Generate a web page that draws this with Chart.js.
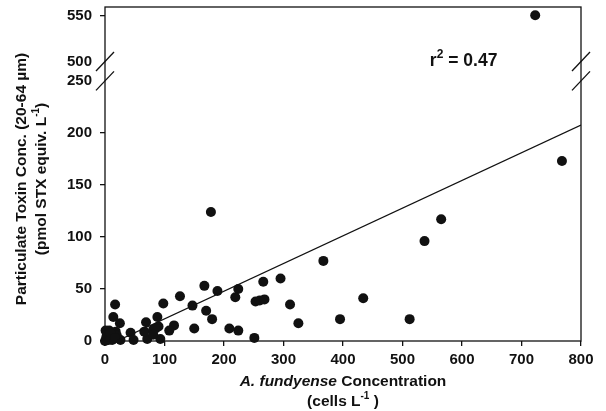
<!DOCTYPE html>
<html>
<head>
<meta charset="utf-8">
<script src="https://cdn.jsdelivr.net/npm/chart.js@4.4.0/dist/chart.umd.min.js"></script>
<style>
  html, body { margin: 0; padding: 0; background: #fff; }
  #chart { display: block; }
</style>
</head>
<body>
<canvas id="chart" width="606" height="411"></canvas>
<script>
// A. fundyense cells per litre vs particulate toxin, below the axis break
const cellsLow = [768, 178, 565, 537, 367, 295, 266, 224, 219, 189,
                  167, 126, 98, 17, 14, 25, 147, 170, 180, 253,
                  260, 268, 311, 325, 434, 395, 512, 224, 209, 251,
                  150, 116, 108, 88, 90, 69, 93, 71, 66, 81,
                  85, 81, 43, 48, 26, 0, 2, 4, 7, 10,
                  12, 15, 18, 1, 6, 14, 20, 3, 9, 17];
const toxinLow = [173, 124, 117, 96, 77, 60, 57, 50, 42, 48,
                  53, 43, 36, 35, 23, 17, 34, 29, 21, 38,
                  39, 40, 35, 17, 41, 21, 21, 10, 12, 3,
                  12, 15, 10, 23, 14, 18, 2, 2, 9, 11,
                  12, 6, 8, 1, 1, 0, 3, 7, 10, 4,
                  1, 7, 9, 10, 1, 2, 5, 5, 8, 3];

// above the break
const cellsHigh = [723];
const toxinHigh = [551];

// regression line end points
const fitCells = [20, 800];
const fitToxin = [0, 207.5];

const xTicks = [0, 100, 200, 300, 400, 500, 600, 700, 800];
const lowTicks = [0, 50, 100, 150, 200, 250];
const highTicks = [500, 550];
const breakLow = 250;
const breakHigh = 500;
const rSquared = '0.47';

const INK = '#111';
const FONT = "'Liberation Sans', Arial, Helvetica, sans-serif";
const TITLE_SIZE = 15.5;

const toPoints = (xs, ys) => xs.map((x, i) => ({ x: x, y: ys[i] }));

/**
 * Font string for a text run
 */
function runFont(run, size) {
    const s = run.sup ? Math.round(size * 0.66) : size;
    return (run.italic ? 'italic ' : '') + 'bold ' + s + 'px ' + FONT;
}

/**
 * Draws a line of mixed runs (italic / superscript) centred on cx, cy
 */
function drawRuns(ctx, runs, cx, cy, size, align) {
    let total = 0;
    runs.forEach(r => {
        ctx.font = runFont(r, size);
        r.w = ctx.measureText(r.t).width;
        total += r.w;
    });
    let x = align === 'left' ? cx : cx - total / 2;
    ctx.textAlign = 'left';
    ctx.textBaseline = 'middle';
    runs.forEach(r => {
        ctx.font = runFont(r, size);
        ctx.fillText(r.t, x, r.sup ? cy - size * 0.4 : cy);
        x += r.w;
    });
}

// frame, axis breaks, titles and the r² note
const decorations = {
    id: 'decorations',
    afterDraw(chart) {
        const { ctx, chartArea: a, scales } = chart;
        ctx.save();
        ctx.strokeStyle = INK;
        ctx.fillStyle = INK;
        ctx.lineWidth = 1.3;
        ctx.strokeRect(a.left, a.top, a.right - a.left, a.bottom - a.top);

        // double slashes at the break, both sides
        const ys = [scales.y.getPixelForValue(breakLow), scales.y2.getPixelForValue(breakHigh)];
        ys.forEach(py => {
            [a.left, a.right].forEach(px => {
                ctx.beginPath();
                ctx.moveTo(px - 9, py + 9.5);
                ctx.lineTo(px + 9, py - 9.5);
                ctx.stroke();
            });
        });

        // x axis title
        const cx = (a.left + a.right) / 2;
        drawRuns(ctx, [{ t: 'A. fundyense', italic: true }, { t: ' Concentration' }], cx, a.bottom + 41, TITLE_SIZE);
        drawRuns(ctx, [{ t: '(cells L' }, { t: '-1', sup: true }, { t: ' )' }], cx, a.bottom + 61, TITLE_SIZE);

        // y axis title (rotated)
        ctx.save();
        ctx.translate(22, (a.top + a.bottom) / 2 + 5);
        ctx.rotate(-Math.PI / 2);
        drawRuns(ctx, [{ t: 'Particulate Toxin Conc. (20-64 \u00b5m)' }], 0, 0, TITLE_SIZE);
        ctx.restore();
        ctx.save();
        ctx.translate(42, (a.top + a.bottom) / 2 + 5);
        ctx.rotate(-Math.PI / 2);
        drawRuns(ctx, [{ t: '(pmol STX equiv. L' }, { t: '-1', sup: true }, { t: ')' }], 0, 0, TITLE_SIZE);
        ctx.restore();

        // r² note
        drawRuns(ctx, [{ t: 'r' }, { t: '2', sup: true }, { t: ' = ' + rSquared }],
            scales.x.getPixelForValue(546), scales.y2.getPixelForValue(500), 17.5, 'left');

        ctx.restore();
    }
};

const tickFont = { family: FONT, size: 15, weight: 'bold' };

// tick marks on the y axes, none where the break slashes sit
const yGrid = {
    drawOnChartArea: false,
    drawTicks: true,
    tickLength: 5,
    lineWidth: 1.3,
    color: c => (c.tick && (c.tick.value === breakLow || c.tick.value === breakHigh)) ? 'rgba(0,0,0,0)' : INK
};

new Chart(document.getElementById('chart'), {
    type: 'scatter',
    data: {
        datasets: [
            {
                label: 'fit',
                type: 'line',
                data: toPoints(fitCells, fitToxin),
                yAxisID: 'y',
                borderColor: INK,
                borderWidth: 1.3,
                pointRadius: 0,
                fill: false
            },
            {
                label: 'low',
                data: toPoints(cellsLow, toxinLow),
                yAxisID: 'y',
                backgroundColor: INK,
                borderWidth: 0,
                pointRadius: 5,
                clip: false
            },
            {
                label: 'high',
                data: toPoints(cellsHigh, toxinHigh),
                yAxisID: 'y2',
                backgroundColor: INK,
                borderWidth: 0,
                pointRadius: 5,
                clip: false
            }
        ]
    },
    options: {
        responsive: false,
        animation: false,
        devicePixelRatio: 1,
        layout: { padding: { top: 7, right: 25, left: 0, bottom: 0 } },
        plugins: {
            legend: { display: false },
            tooltip: { enabled: false }
        },
        scales: {
            x: {
                type: 'linear',
                position: 'bottom',
                min: 0,
                max: 800,
                afterBuildTicks: s => { s.ticks = xTicks.map(v => ({ value: v })); },
                afterFit: s => { s.height = 70; },
                ticks: { font: tickFont, color: INK, padding: 5 },
                grid: { drawOnChartArea: false, drawTicks: true, tickLength: 5, lineWidth: 1.3, color: INK },
                border: { display: false }
            },
            y: {
                type: 'linear',
                position: 'left',
                stack: 'toxin',
                stackWeight: 269.5,
                min: 0,
                max: 259,
                afterBuildTicks: s => { s.ticks = lowTicks.map(v => ({ value: v })); },
                afterFit: s => { s.width = 105; s.paddingTop = 0; s.paddingBottom = 0; },
                ticks: { font: tickFont, color: INK, padding: 8 },
                grid: yGrid,
                border: { display: false }
            },
            y2: {
                type: 'linear',
                position: 'left',
                stack: 'toxin',
                stackWeight: 64.5,
                min: 489,
                max: 560,
                afterBuildTicks: s => { s.ticks = highTicks.map(v => ({ value: v })); },
                afterFit: s => { s.width = 105; s.paddingTop = 0; s.paddingBottom = 0; },
                ticks: { font: tickFont, color: INK, padding: 8 },
                grid: yGrid,
                border: { display: false }
            }
        }
    },
    plugins: [decorations]
});
</script>
</body>
</html>
